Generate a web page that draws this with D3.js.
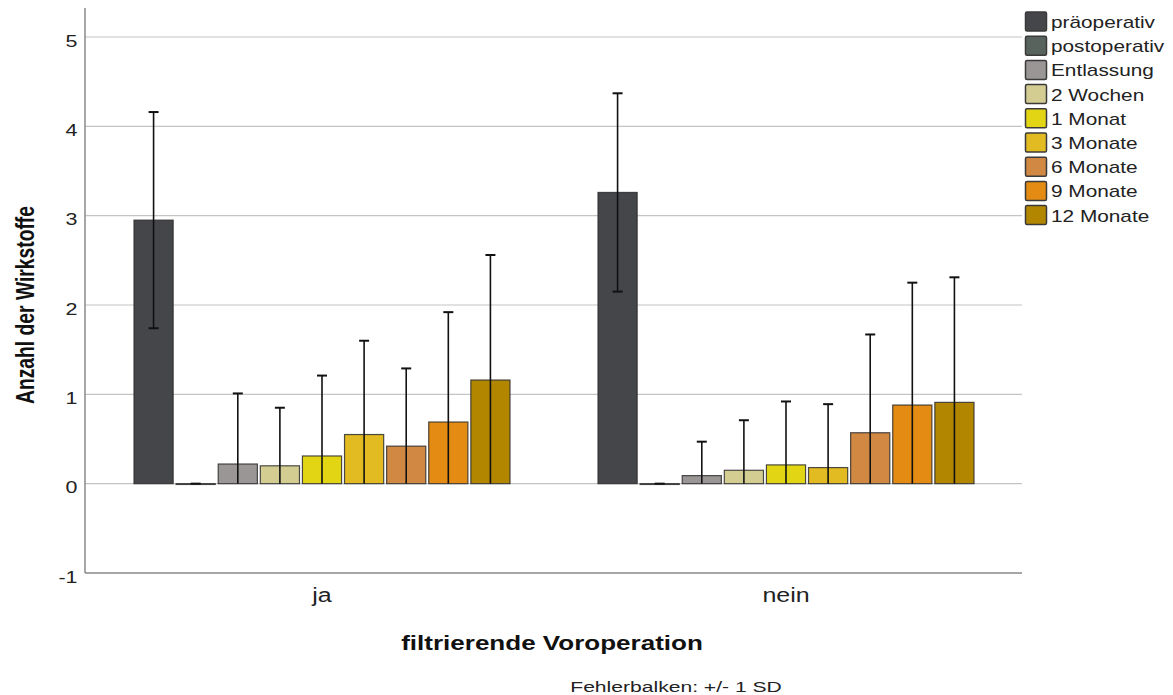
<!DOCTYPE html>
<html>
<head>
<meta charset="utf-8">
<script src="https://cdn.jsdelivr.net/npm/d3@7/dist/d3.min.js"></script>
<style>
  html, body { margin: 0; padding: 0; background: #fff; }
  svg { display: block; font-family: "Liberation Sans", Arial, sans-serif; }
</style>
</head>
<body>
<svg id="chart" width="1173" height="695"></svg>
<script>
// Groups on the x axis
const groups = ["ja", "nein"];
// Time points (series)
const series = ["präoperativ", "postoperativ", "Entlassung", "2 Wochen", "1 Monat",
                "3 Monate", "6 Monate", "9 Monate", "12 Monate"];
const seriesColors = ["#454649", "#58635e", "#9a9696", "#d3cd92", "#e2d614",
                      "#e2ba22", "#d18843", "#e38b12", "#b38600"];
// Mean number of active substances per group
const meanJa   = [2.95, 0.00, 0.22, 0.20, 0.31, 0.55, 0.42, 0.69, 1.16];
const meanNein = [3.26, 0.00, 0.09, 0.15, 0.21, 0.18, 0.57, 0.88, 0.91];
// Standard deviations (error bars: +/- 1 SD)
const sdJa     = [1.21, 0.00, 0.79, 0.65, 0.90, 1.05, 0.87, 1.23, 1.40];
const sdNein   = [1.11, 0.00, 0.38, 0.56, 0.71, 0.71, 1.10, 1.37, 1.40];
// Y axis ticks
const yTicks = [-1, 0, 1, 2, 3, 4, 5];

const means = { ja: meanJa, nein: meanNein };
const sds = { ja: sdJa, nein: sdNein };

// Text in this chart is drawn with a wide horizontal stretch
const STRETCH = 1.3;

const svg = d3.select("#chart");
const plotLeft = 85, plotRight = 1022, plotTop = 8, plotBottom = 573;
const clusterWidth = 376;

const y = d3.scaleLinear().domain([-1, 5]).range([plotBottom, 37]);
const x0 = d3.scaleBand().domain(groups).range([90, 1018]);
const inner = d3.scaleBand().domain(series).range([0, clusterWidth]).paddingInner(0.07);

// Gridlines
svg.append("g")
  .selectAll("line")
  .data(yTicks.filter(t => t > -1))
  .join("line")
  .attr("x1", plotLeft).attr("x2", plotRight)
  .attr("y1", d => y(d)).attr("y2", d => y(d))
  .attr("stroke", "#c4c4c4").attr("stroke-width", 1.2);

// Y axis
const yAxis = d3.axisLeft(y).tickValues(yTicks).tickSize(0).tickFormat(d => String(d));
const gy = svg.append("g").attr("transform", `translate(${plotLeft},0)`).call(yAxis);
gy.select(".domain").remove();
gy.selectAll("text")
  .attr("font-size", 16.5).attr("fill", "#222")
  .attr("font-family", "Liberation Sans, Arial, sans-serif")
  .attr("x", -7.5 / STRETCH).attr("dy", "0.55em")
  .attr("transform", `scale(${STRETCH},1)`);
svg.append("line").attr("x1", plotLeft).attr("x2", plotLeft).attr("y1", plotTop).attr("y2", plotBottom)
  .attr("stroke", "#8a8a8a").attr("stroke-width", 1.5);

// X axis
const xAxis = d3.axisBottom(x0).tickSize(0).tickPadding(15);
const gx = svg.append("g").attr("transform", `translate(0,${plotBottom})`).call(xAxis);
gx.select(".domain").remove();
gx.selectAll("text")
  .attr("font-size", 20).attr("fill", "#222")
  .attr("font-family", "Liberation Sans, Arial, sans-serif")
  .attr("transform", "scale(1.25,1)");
svg.append("line").attr("x1", plotLeft).attr("x2", plotRight).attr("y1", plotBottom).attr("y2", plotBottom)
  .attr("stroke", "#8a8a8a").attr("stroke-width", 1.5);

// Bars and error bars per group
groups.forEach(g => {
  const gx0 = x0(g) + (x0.bandwidth() - clusterWidth) / 2;
  const grp = svg.append("g").attr("transform", `translate(${gx0},0)`);
  const rows = series.map((s, i) => ({ s, i, m: means[g][i], sd: sds[g][i] }));

  grp.selectAll("rect")
    .data(rows)
    .join("rect")
    .attr("x", d => inner(d.s))
    .attr("width", inner.bandwidth())
    .attr("y", d => y(d.m))
    .attr("height", d => Math.max(y(0) - y(d.m), 0.8))
    .attr("fill", d => seriesColors[d.i])
    .attr("stroke", "#2e2e2e").attr("stroke-opacity", 0.85).attr("stroke-width", 1.2);

  const eb = grp.selectAll("g.err").data(rows).join("g").attr("class", "err");
  const cx = d => inner(d.s) + inner.bandwidth() / 2;
  eb.append("line")
    .attr("x1", cx).attr("x2", cx)
    .attr("y1", d => y(d.m + d.sd))
    .attr("y2", d => y(Math.max(0, d.m - d.sd)))
    .attr("stroke", "#111").attr("stroke-width", 1.6);
  // upper cap
  eb.append("line")
    .attr("x1", d => cx(d) - 5).attr("x2", d => cx(d) + 5)
    .attr("y1", d => y(d.m + d.sd)).attr("y2", d => y(d.m + d.sd))
    .attr("stroke", "#111").attr("stroke-width", 2);
  // lower cap where the interval stays above zero
  eb.filter(d => d.m - d.sd > 0).append("line")
    .attr("x1", d => cx(d) - 5).attr("x2", d => cx(d) + 5)
    .attr("y1", d => y(d.m - d.sd)).attr("y2", d => y(d.m - d.sd))
    .attr("stroke", "#111").attr("stroke-width", 2);
});

// Legend
const legend = svg.append("g").attr("transform", "translate(1025,12)");
const li = legend.selectAll("g").data(series).join("g")
  .attr("transform", (d, i) => `translate(0,${i * 24.2})`);
li.append("rect").attr("x", 0.5).attr("y", 0).attr("width", 21).attr("height", 19)
  .attr("rx", 1.5)
  .attr("fill", (d, i) => seriesColors[i])
  .attr("stroke", "#3a3a3a").attr("stroke-width", 1.5);
li.append("text")
  .attr("transform", `translate(26,16) scale(${STRETCH},1)`)
  .text(d => d)
  .attr("font-size", 16).attr("fill", "#222");

// Axis titles
svg.append("text")
  .attr("transform", `translate(34,305) rotate(-90) scale(1,1.35)`)
  .attr("text-anchor", "middle")
  .attr("font-size", 19).attr("font-weight", "bold").attr("fill", "#111")
  .attr("textLength", 198).attr("lengthAdjust", "spacingAndGlyphs")
  .text("Anzahl der Wirkstoffe");

svg.append("text")
  .attr("transform", "translate(552,650) scale(1.24,1)")
  .attr("text-anchor", "middle")
  .attr("font-size", 21).attr("font-weight", "bold").attr("fill", "#111")
  .text("filtrierende Voroperation");

svg.append("text")
  .attr("transform", "translate(676,692) scale(1.36,1)")
  .attr("text-anchor", "middle")
  .attr("font-size", 15.5).attr("fill", "#222")
  .text("Fehlerbalken: +/- 1 SD");
</script>
</body>
</html>
